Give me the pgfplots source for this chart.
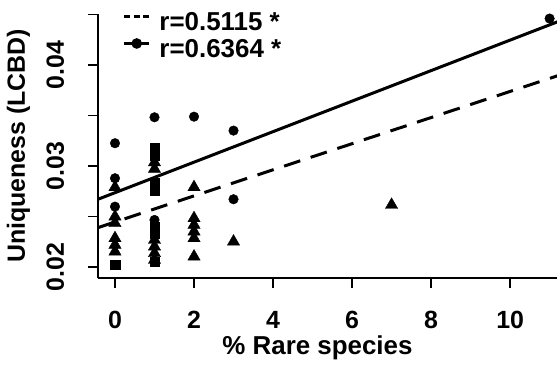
\documentclass[border=0pt]{standalone}
\usepackage{fontspec}
\setmainfont{Liberation Sans}
\usepackage{pgfplots}
\pgfplotsset{compat=1.18}
\begin{document}
\begin{tikzpicture}
\useasboundingbox (0,0) rectangle (557bp,369bp);
\clip (0,0) rectangle (557bp,369bp);
\begin{axis}[
  at={(98bp,91bp)}, anchor=south west,
  scale only axis, width=469bp, height=264bp,
  xmin=-0.43, xmax=11.44, ymin=0.0189, ymax=0.04505,
  axis x line*=bottom, axis y line*=left,
  axis line style={-, line width=1.8bp, black},
  tick align=outside, major tick length=10bp,
  tick style={line width=1.8bp, black},
  xtick={0,2,4,6,8,10}, xticklabels={0,2,4,6,8,10},
  ytick={0.02,0.025,0.03,0.035,0.04,0.045},
  yticklabels={0.02,{},0.03,{},0.04,{}},
  scaled y ticks=false,
  /pgf/number format/assume math mode=true,
  tick label style={font=\fontsize{25}{30}\selectfont\bfseries},
  xticklabel style={anchor=base, yshift=-40bp},
  yticklabel style={xshift=-24bp, rotate=90, anchor=base},
  every axis x label/.style={at={(axis description cs:0.468,0)}, yshift=-76bp, anchor=base, font=\fontsize{26}{30}\selectfont\bfseries},
  every axis y label/.style={at={(axis description cs:0,0.5)}, xshift=-73bp, rotate=90, anchor=base, font=\fontsize{25}{30}\selectfont\bfseries},
  xlabel={\% Rare species},
  ylabel={Uniqueness (LCBD)},
  legend style={draw=none, fill=none, at={(axis description cs:0.0533,1.0114)}, anchor=north west,
    inner sep=0pt, outer sep=0pt, row sep=0pt, column sep=0pt,
    nodes={inner sep=0pt, text height=20bp, text depth=7bp, font=\fontsize{26}{30}\selectfont\bfseries}},
  legend cell align=left,
  legend image code/.code={\draw[mark repeat=2,mark phase=2,#1] plot coordinates {(0bp,8bp) (12.5bp,8bp) (25bp,8bp)}; \path (34bp,8bp);},
  clip=false,
]
\addlegendimage{black, line width=2.5bp, dash pattern=on 6bp off 3.5bp}
\addlegendentry{r=0.5115 *}
\addlegendimage{black, line width=2.5bp, mark=*, mark size=4bp}
\addlegendentry{r=0.6364 *}

\addplot[only marks, mark=*, mark size=4.8bp, black, forget plot] coordinates {
(0,0.03225) (0,0.02878) (0,0.02597) (1,0.03482) (1,0.02465) (2,0.03488) (3,0.0335) (3,0.0267) (11,0.0446)};
\addplot[only marks, mark=triangle*, mark size=7.1bp, black, forget plot] coordinates {
(0,0.02789) (0,0.02498) (0,0.02433) (0,0.02284) (0,0.02218) (0,0.02151)
(1,0.03035) (1,0.0297) (1,0.02267) (1,0.02201) (1,0.02136) (1,0.02069)
(2,0.02789) (2,0.02482) (2,0.02416) (2,0.0235) (2,0.02284) (2,0.02102)
(3,0.0225) (7,0.02614)};
\addplot[only marks, mark=square*, mark size=4.8bp, black, forget plot] coordinates {
(0,0.0202) (1,0.03175) (1,0.03109) (1,0.02829) (1,0.02762) (1,0.02399) (1,0.02334) (1,0.0205)};
\addplot[black, line width=3bp, forget plot] coordinates {(-0.43,0.02670) (11.44,0.04464)};
\addplot[black, line width=3bp, dash pattern=on 17bp off 11bp, forget plot] coordinates {(-0.43,0.02389) (11.44,0.03924)};
\end{axis}
\end{tikzpicture}
\end{document}
